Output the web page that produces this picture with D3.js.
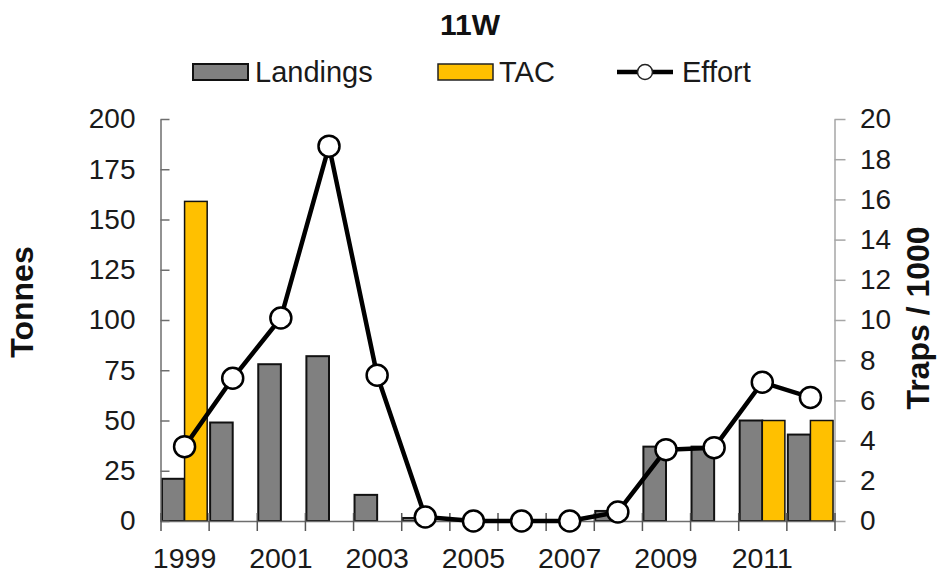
<!DOCTYPE html>
<html>
<head>
<meta charset="utf-8">
<script src="https://cdn.jsdelivr.net/npm/d3@7"></script>
<style>
  html, body { margin: 0; padding: 0; background: #fff; }
  svg { display: block; font-family: "Liberation Sans", Arial, sans-serif; }
</style>
</head>
<body>
<svg id="chart" width="937" height="574"></svg>
<script>
const years = ["1999","2000","2001","2002","2003","2004","2005","2006","2007","2008","2009","2010","2011","2012"];
const landings = [21, 49, 78, 82, 13, 1.5, 0, 0, 0, 5, 37, 37, 50, 43];
const tac = [159, null, null, null, null, null, null, null, null, null, null, null, 50, 50];
const effort = [3.7, 7.1, 10.1, 18.65, 7.25, 0.2, 0, 0, 0, 0.45, 3.55, 3.65, 6.9, 6.15];
const leftTicks = [0, 25, 50, 75, 100, 125, 150, 175, 200];
const rightTicks = [0, 2, 4, 6, 8, 10, 12, 14, 16, 18, 20];
const xTickLabels = ["1999","2001","2003","2005","2007","2009","2011"];
const seriesNames = ["Landings", "TAC"];

const svg = d3.select("#chart");
const pLeft = 160.5, pRight = 834.5, pTop = 119, pBottom = 521;

const x = d3.scaleBand().domain(years).range([pLeft, pRight]).padding(0);
const xEdge = d3.scaleLinear().domain([0, years.length]).range([pLeft, pRight]);
const xInner = d3.scaleBand().domain(seriesNames).range([0, x.bandwidth()]).paddingInner(0).paddingOuter(0.065);
const yL = d3.scaleLinear().domain([0, 200]).range([pBottom, pTop]);
const yR = d3.scaleLinear().domain([0, 20]).range([pBottom, pTop]);

const colors = { Landings: "#808080", TAC: "#FFC000" };

// bars
const barData = [];
years.forEach((yr, i) => {
  if (landings[i] != null) barData.push({ yr, s: "Landings", v: landings[i] });
  if (tac[i] != null) barData.push({ yr, s: "TAC", v: tac[i] });
});
svg.append("g").selectAll("rect").data(barData.filter(d => d.v > 0)).join("rect")
  .attr("x", d => x(d.yr) + xInner(d.s))
  .attr("width", xInner.bandwidth())
  .attr("y", d => yL(d.v))
  .attr("height", d => yL(0) - yL(d.v))
  .attr("fill", d => colors[d.s])
  .attr("stroke", "#111")
  .attr("stroke-width", d => d.s === "Landings" ? 2 : 1.5);

// left axis
const gL = svg.append("g").attr("transform", `translate(${pLeft},0)`)
  .call(d3.axisLeft(yL).tickValues(leftTicks).tickSize(10).tickSizeOuter(0).tickPadding(15));
gL.select(".domain").attr("stroke", "#6e6e6e").attr("stroke-width", 1.5);
gL.selectAll(".tick line").attr("x2", 9).attr("stroke", "#6e6e6e").attr("stroke-width", 1.5);
gL.selectAll(".tick text").attr("font-size", 28).attr("fill", "#1a1a1a").style("font-family", "Liberation Sans, Arial, sans-serif");

// right axis
const gR = svg.append("g").attr("transform", `translate(${pRight},0)`)
  .call(d3.axisRight(yR).tickValues(rightTicks).tickSize(11).tickSizeOuter(0).tickPadding(14.5));
gR.select(".domain").attr("stroke", "#a6a6a6").attr("stroke-width", 1.5);
gR.selectAll(".tick line").attr("stroke", "#a6a6a6").attr("stroke-width", 1.5);
gR.selectAll(".tick text").attr("font-size", 28).attr("fill", "#1a1a1a").style("font-family", "Liberation Sans, Arial, sans-serif");

// bottom axis ticks (category boundaries)
const gB = svg.append("g").attr("transform", `translate(0,${pBottom})`)
  .call(d3.axisBottom(xEdge).tickValues(d3.range(years.length + 1)).tickFormat("").tickSize(10).tickSizeOuter(0));
gB.select(".domain").attr("stroke", "#6e6e6e").attr("stroke-width", 1.5);
gB.selectAll(".tick line").attr("y1", -8).attr("stroke", "#555").attr("stroke-width", 1.5);

// bottom labels
const gBL = svg.append("g").attr("transform", `translate(0,${pBottom})`)
  .call(d3.axisBottom(x).tickValues(xTickLabels).tickSize(0).tickPadding(27));
gBL.select(".domain").remove();
gBL.selectAll(".tick text").attr("font-size", 28.5).attr("fill", "#1a1a1a").style("font-family", "Liberation Sans, Arial, sans-serif");

// effort line
const line = d3.line().x((d, i) => x(years[i]) + x.bandwidth() / 2).y(d => yR(d));
svg.append("path").datum(effort).attr("d", line)
  .attr("fill", "none").attr("stroke", "#000").attr("stroke-width", 4.5).attr("stroke-linejoin", "round");
svg.append("g").selectAll("circle").data(effort).join("circle")
  .attr("cx", (d, i) => x(years[i]) + x.bandwidth() / 2)
  .attr("cy", d => yR(d))
  .attr("r", 10.5)
  .attr("fill", "#fff").attr("stroke", "#000").attr("stroke-width", 2.5);

// axis titles
svg.append("text").attr("transform", "translate(33,302) rotate(-90)")
  .attr("text-anchor", "middle").attr("font-size", 32).attr("font-weight", "bold").attr("fill", "#111")
  .text("Tonnes");
svg.append("text").attr("transform", "translate(929,318) rotate(-90)")
  .attr("text-anchor", "middle").attr("font-size", 32).attr("font-weight", "bold").attr("fill", "#111")
  .text("Traps / 1000");

// title
svg.append("text").attr("x", 470).attr("y", 35).attr("text-anchor", "middle")
  .attr("font-size", 30).attr("font-weight", "bold").attr("fill", "#111").text("11W");

// legend
const lg = svg.append("g");
lg.append("rect").attr("x", 193).attr("y", 64).attr("width", 55).attr("height", 16)
  .attr("fill", colors.Landings).attr("stroke", "#111").attr("stroke-width", 2);
lg.append("text").attr("x", 255).attr("y", 81.5).attr("font-size", 29).attr("fill", "#1a1a1a").text("Landings");
lg.append("rect").attr("x", 438).attr("y", 64).attr("width", 55).attr("height", 16)
  .attr("fill", colors.TAC).attr("stroke", "#222").attr("stroke-width", 1.5);
lg.append("text").attr("x", 499).attr("y", 81.5).attr("font-size", 29).attr("fill", "#1a1a1a").text("TAC");
lg.append("line").attr("x1", 617).attr("x2", 673).attr("y1", 72).attr("y2", 72)
  .attr("stroke", "#000").attr("stroke-width", 4.5);
lg.append("circle").attr("cx", 645).attr("cy", 72).attr("r", 7.5)
  .attr("fill", "#fff").attr("stroke", "#222").attr("stroke-width", 1.5);
lg.append("text").attr("x", 682).attr("y", 81.5).attr("font-size", 29).attr("fill", "#1a1a1a").text("Effort");
</script>
</body>
</html>
